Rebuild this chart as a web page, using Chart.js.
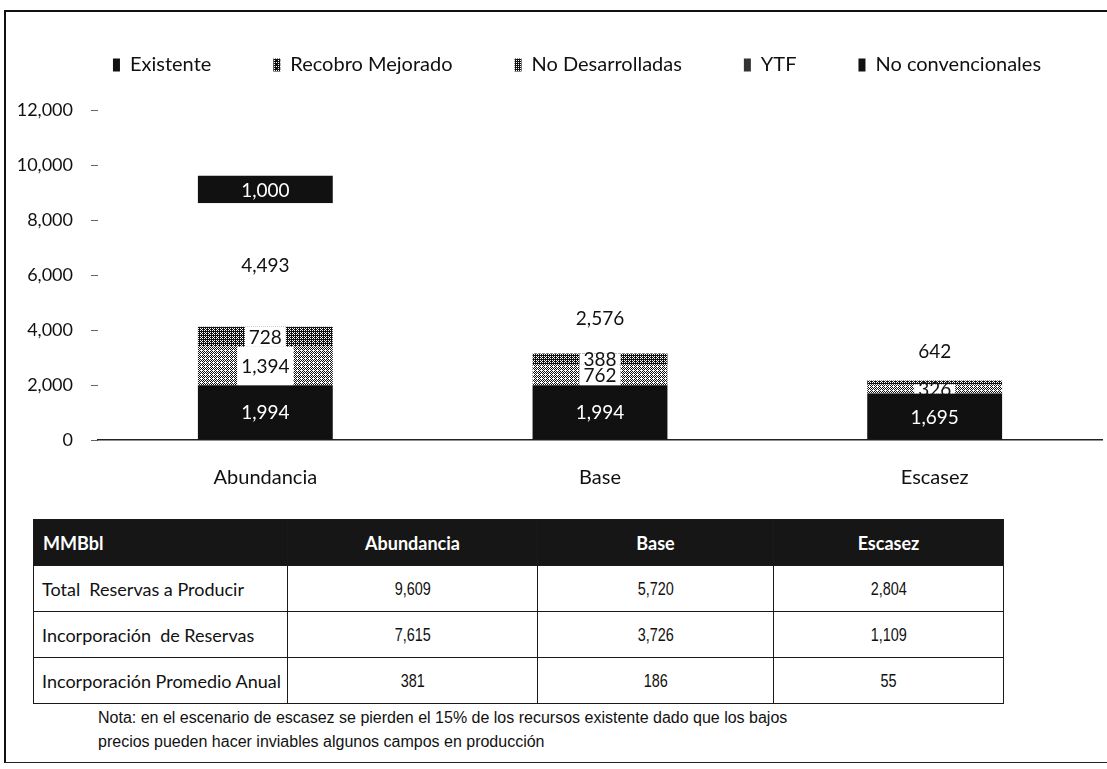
<!DOCTYPE html>
<html lang="es">
<head>
<meta charset="utf-8">
<title>Reservas a producir por escenario (MMBbl)</title>
<script src="https://cdn.jsdelivr.net/npm/chart.js@4.4.1/dist/chart.umd.min.js"></script>
<style>
  html, body { margin: 0; padding: 0; background: #fff; }
  body { width: 1107px; height: 769px; position: relative; overflow: hidden; }
  #marco { position: absolute; left: 4px; top: 10px; width: 1130px; height: 750px;
           border-top: 2px solid #111; border-left: 2px solid #111; border-bottom: 1.5px solid #222; }
  #c { position: absolute; left: 0; top: -13px; }
  #tabla { position: absolute; left: 33px; top: 519px; width: 970px;
           border-collapse: collapse; table-layout: fixed; color: #111; background: #fff; }
  #tabla th, #tabla td { border: 1.5px solid #1a1a1a; padding: 0; }
  #tabla tr { height: 46px; }
  #tabla th { background: #161616; color: #fff; font: bold 18px Lato, sans-serif; text-align: center; }
  #tabla th.izq { text-align: left; padding-left: 9px; }
  #tabla td.etq { font: 18px Lato, sans-serif; text-align: left; padding-left: 8px; white-space: pre; }
  #tabla td.num { font: 19px "Liberation Sans", Arial, sans-serif; text-align: center; }
  #tabla td.num span { display: inline-block; transform: scaleX(0.76); }
  #nota { position: absolute; left: 98px; top: 706px; font: 16px "Liberation Sans", Arial, sans-serif;
          line-height: 24px; color: #111; }
</style>
</head>
<body>
<div id="marco"></div>
<canvas id="c" width="1107" height="529"></canvas>
<table id="tabla"></table>
<div id="nota">Nota: en el escenario de escasez se pierden el 15% de los recursos existente dado que los bajos<br>precios pueden hacer inviables algunos campos en producción</div>

<script>
// Escenarios y volúmenes (MMBbl) por tipo de recurso
const categorias = ['Abundancia', 'Base', 'Escasez'];
const existente = [1994, 1994, 1695];
const recobroMejorado = [1394, 762, 326];
const noDesarrolladas = [728, 388, 141];
const ytf = [4493, 2576, 642];
const noConvencionales = [1000, 0, 0];
const nombresSeries = ['Existente', 'Recobro Mejorado', 'No Desarrolladas', 'YTF', 'No convencionales'];
const marcasEjeY = [0, 2000, 4000, 6000, 8000, 10000, 12000];

// Tabla resumen
const encabezadoTabla = 'MMBbl';
const filasTabla = ['Total  Reservas a Producir', 'Incorporación  de Reservas', 'Incorporación Promedio Anual'];
const totalReservas = [9609, 5720, 2804];
const incorporacionReservas = [7615, 3726, 1109];
const incorporacionPromedio = [381, 186, 55];

const fmt = v => v.toLocaleString('en-US');

// ---- tabla ----
(function construirTabla() {
  const t = document.getElementById('tabla');
  const cg = document.createElement('colgroup');
  [254, 250, 236, 230].forEach(w => { const c = document.createElement('col'); c.style.width = w + 'px'; cg.appendChild(c); });
  t.appendChild(cg);
  const h = document.createElement('tr');
  const h0 = document.createElement('th'); h0.className = 'izq'; h0.textContent = encabezadoTabla; h.appendChild(h0);
  categorias.forEach(cat => { const th = document.createElement('th'); th.textContent = cat; h.appendChild(th); });
  t.appendChild(h);
  [totalReservas, incorporacionReservas, incorporacionPromedio].forEach((vals, r) => {
    const tr = document.createElement('tr');
    const td0 = document.createElement('td'); td0.className = 'etq'; td0.textContent = filasTabla[r]; tr.appendChild(td0);
    vals.forEach(v => {
      const td = document.createElement('td'); td.className = 'num';
      const s = document.createElement('span'); s.textContent = fmt(v); td.appendChild(s);
      tr.appendChild(td);
    });
    t.appendChild(tr);
  });
})();

// ---- tramas punteadas (dither ordenado 4x4) ----
const ctx = document.getElementById('c').getContext('2d');
function trama(nivel) {
  const c = document.createElement('canvas'); c.width = 4; c.height = 4;
  const g = c.getContext('2d');
  const bayer = [0, 8, 2, 10, 12, 4, 14, 6, 3, 11, 1, 9, 15, 7, 13, 5];
  g.fillStyle = '#fff'; g.fillRect(0, 0, 4, 4);
  g.fillStyle = '#111';
  for (let i = 0; i < 16; i++) if (bayer[i] < nivel) g.fillRect(i % 4, Math.floor(i / 4), 1, 1);
  return ctx.createPattern(c, 'repeat');
}

const series = [existente, recobroMejorado, noDesarrolladas, ytf, noConvencionales];
const rellenos = ['#111', trama(7), trama(11), '#ffffff', '#111'];
const leyenda = ['#111', trama(13), trama(12), '#333', '#111'];
const colorTexto = ['#fff', '#111', '#111', '#111', '#fff'];
const fondoTexto = [false, true, true, false, false];

// Etiquetas de valor dentro de cada tramo
const etiquetasValor = {
  id: 'etiquetasValor',
  afterDatasetsDraw(chart) {
    const c = chart.ctx;
    c.save();
    c.font = '19px Lato, sans-serif';
    c.textAlign = 'center';
    c.textBaseline = 'middle';
    const dsList = chart.data.datasets;
    chart.data.labels.forEach((_, i) => {
      let superior = -1;
      dsList.forEach((ds, d) => { if (ds.data[i] > 0) superior = d; });
      dsList.forEach((ds, d) => {
        const v = ds.data[i];
        if (!(v > 0)) return;
        const bar = chart.getDatasetMeta(d).data[i];
        const alto = Math.abs(bar.base - bar.y);
        if (alto < 5) return;
        const txt = fmt(v);
        let y = (bar.y + bar.base) / 2;
        if (d === superior && alto < 20) y = bar.y - 12;
        const w = c.measureText(txt).width;
        if (ds.fondoTexto) {
          c.fillStyle = '#fff';
          c.fillRect(bar.x - w / 2 - 4, bar.y, w + 8, alto);
        }
        c.fillStyle = ds.colorTexto;
        c.fillText(txt, bar.x, y + 1);
      });
    });
    c.restore();
  }
};

// La leyenda se centra un poco a la derecha del centro del lienzo
const desplazarLeyenda = {
  id: 'desplazarLeyenda',
  afterLayout(chart) {
    const lg = chart.legend;
    if (lg) { lg.left += 19; lg.right += 19; }
  }
};

Chart.defaults.font.family = 'Lato, sans-serif';
Chart.defaults.color = '#111';

new Chart(ctx, {
  type: 'bar',
  data: {
    labels: categorias,
    datasets: series.map((vals, k) => ({
      label: nombresSeries[k],
      data: vals,
      backgroundColor: rellenos[k],
      borderWidth: 0,
      colorLeyenda: leyenda[k],
      colorTexto: colorTexto[k],
      fondoTexto: fondoTexto[k],
      barPercentage: 0.403,
      categoryPercentage: 1.0
    }))
  },
  options: {
    responsive: false,
    animation: false,
    events: [],
    layout: { padding: { top: 6, left: 14, right: 5, bottom: 0 } },
    plugins: {
      tooltip: { enabled: false },
      title: { display: true, text: '', padding: { top: 0, bottom: 13 }, font: { size: 10, lineHeight: 1.2 }, weight: 500 },
      legend: {
        position: 'top',
        weight: 1000,
        labels: {
          font: { size: 20 },
          color: '#111',
          boxWidth: 7,
          boxHeight: 13,
          padding: 62,
          generateLabels(chart) {
            const items = Chart.defaults.plugins.legend.labels.generateLabels(chart);
            items.forEach(it => {
              const ds = chart.data.datasets[it.datasetIndex];
              it.fillStyle = ds.colorLeyenda;
              it.strokeStyle = ds.colorLeyenda;
              it.lineWidth = 0;
            });
            return items;
          }
        }
      }
    },
    scales: {
      x: {
        stacked: true,
        grid: { display: false, drawTicks: false },
        border: { display: true, color: '#222', width: 1.5 },
        ticks: { padding: 26, font: { size: 20 }, color: '#111' }
      },
      y: {
        stacked: true,
        min: marcasEjeY[0],
        max: marcasEjeY[marcasEjeY.length - 1],
        afterBuildTicks(scale) { scale.ticks = marcasEjeY.map(v => ({ value: v })); },
        afterFit(scale) { scale.width = 84; },
        grid: { drawOnChartArea: false, drawTicks: true, tickLength: 7, color: '#666', tickWidth: 1 },
        border: { display: false },
        ticks: {
          padding: 18,
          color: '#111',
          font: { size: 18 },
          callback: v => fmt(v)
        }
      }
    }
  },
  plugins: [etiquetasValor, desplazarLeyenda]
});
</script>
</body>
</html>
